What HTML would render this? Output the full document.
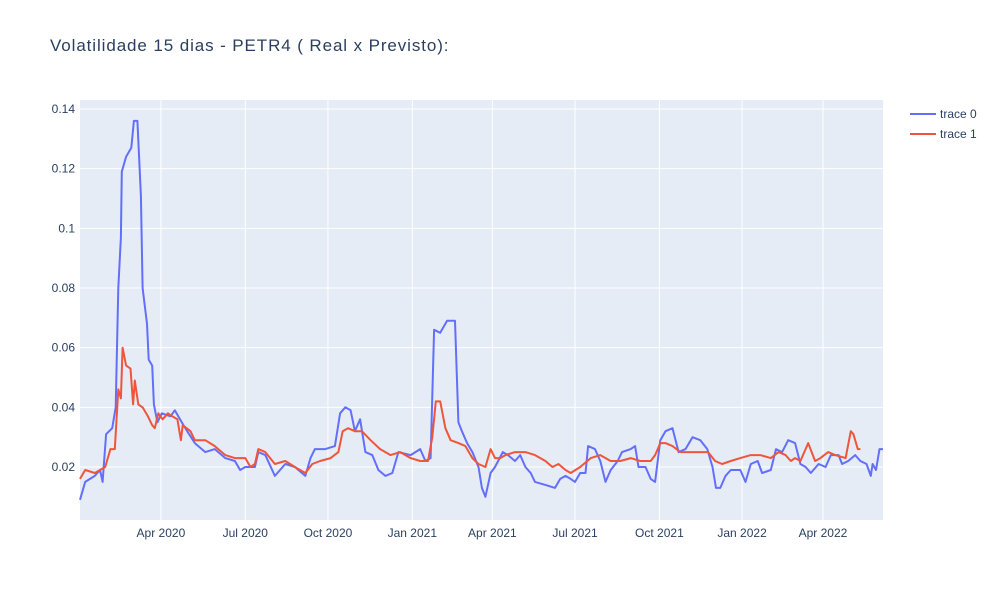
<!DOCTYPE html>
<html><head><meta charset="utf-8"><style>
body{margin:0;background:#fff;}
svg{display:block;font-family:"Liberation Sans",Arial,sans-serif;}
</style></head><body>
<svg id="chart" width="1000" height="600">
<rect x="0" y="0" width="1000" height="600" fill="#fff"/>
<text x="50" y="51" font-size="17" letter-spacing="0.9" fill="#2a3f5f">Volatilidade 15 dias - PETR4 ( Real x Previsto):</text>
<rect x="80" y="100" width="803" height="420" fill="#e5ecf6"/>
<g id="grid"></g><g id="series"></g><g id="axes"></g>
<g>
<g><line x1="910" y1="114" x2="936" y2="114" stroke="#636efa" stroke-width="2"/><text x="940" y="118" font-size="12" fill="#2a3f5f">trace 0</text></g>
<g><line x1="910" y1="134" x2="936" y2="134" stroke="#EF553B" stroke-width="2"/><text x="940" y="138" font-size="12" fill="#2a3f5f">trace 1</text></g>
</g>
</svg>
<script>
// x values are day-index units along the time axis
const realX=[0,6,17,23,26,30,37,41,44,47,48,53,59,62,66,70,72,77,79,83,85,89,94,104,109,115,121,132,144,155,167,178,184,190,201,205,213,224,236,247,259,265,270,282,293,299,305,311,316,322,328,336,343,351,359,366,380,391,397,403,407,414,422,431,435,439,445,451,458,462,466,472,477,486,492,500,506,512,518,523,535,546,552,558,564,569,575,581,584,592,598,604,610,618,623,633,638,642,650,656,661,667,673,681,688,696,704,713,721,727,731,736,742,748,759,765,771,779,784,794,800,807,814,822,828,834,840,849,857,863,872,876,883,891,897,904,909,911,915,919,923];
const realY=[0.009,0.015,0.017,0.019,0.015,0.031,0.033,0.040,0.080,0.097,0.119,0.124,0.127,0.136,0.136,0.111,0.080,0.068,0.056,0.054,0.041,0.035,0.038,0.037,0.039,0.036,0.033,0.028,0.025,0.026,0.023,0.022,0.019,0.020,0.020,0.025,0.024,0.017,0.021,0.020,0.017,0.023,0.026,0.026,0.027,0.038,0.040,0.039,0.032,0.036,0.025,0.024,0.019,0.017,0.018,0.025,0.024,0.026,0.022,0.023,0.066,0.065,0.069,0.069,0.035,0.032,0.028,0.025,0.020,0.013,0.010,0.018,0.020,0.025,0.024,0.022,0.024,0.020,0.018,0.015,0.014,0.013,0.016,0.017,0.016,0.015,0.018,0.018,0.027,0.026,0.022,0.015,0.019,0.022,0.025,0.026,0.027,0.020,0.020,0.016,0.015,0.029,0.032,0.033,0.025,0.026,0.030,0.029,0.026,0.020,0.013,0.013,0.017,0.019,0.019,0.015,0.021,0.022,0.018,0.019,0.026,0.025,0.029,0.028,0.021,0.020,0.018,0.021,0.020,0.024,0.024,0.021,0.022,0.024,0.022,0.021,0.017,0.021,0.019,0.026,0.026];
const predX=[0,6,17,23,29,35,40,44,47,49,53,58,61,63,67,72,78,83,86,90,95,101,106,112,116,118,127,132,144,155,167,178,190,196,201,205,213,224,236,247,259,267,276,288,297,302,308,316,324,334,345,357,368,380,391,400,405,409,414,420,426,435,443,451,458,466,472,477,483,489,500,512,523,535,543,550,558,564,575,587,598,610,621,633,644,656,661,667,673,681,690,702,713,722,730,738,748,759,771,782,794,803,811,817,822,828,837,845,851,860,868,880,886,889,894,897,903];
const predY=[0.016,0.019,0.018,0.019,0.020,0.026,0.026,0.046,0.043,0.060,0.054,0.053,0.041,0.049,0.041,0.040,0.037,0.034,0.033,0.038,0.036,0.038,0.037,0.036,0.029,0.034,0.032,0.029,0.029,0.027,0.024,0.023,0.023,0.020,0.021,0.026,0.025,0.021,0.022,0.020,0.018,0.021,0.022,0.023,0.025,0.032,0.033,0.032,0.032,0.029,0.026,0.024,0.025,0.023,0.022,0.022,0.030,0.042,0.042,0.033,0.029,0.028,0.027,0.023,0.021,0.020,0.026,0.023,0.023,0.024,0.025,0.025,0.024,0.022,0.020,0.021,0.019,0.018,0.020,0.023,0.024,0.022,0.022,0.023,0.022,0.022,0.024,0.028,0.028,0.027,0.025,0.025,0.025,0.025,0.022,0.021,0.022,0.023,0.024,0.024,0.023,0.025,0.024,0.022,0.023,0.022,0.028,0.022,0.023,0.025,0.024,0.023,0.032,0.031,0.026,0.026];
const xTickVals=[93,190,285,382,474,569,666,761,854];
const xTickLabels=["Apr 2020","Jul 2020","Oct 2020","Jan 2021","Apr 2021","Jul 2021","Oct 2021","Jan 2022","Apr 2022"];
const yTickVals=[0.02,0.04,0.06,0.08,0.1,0.12,0.14];
const yTickLabels=["0.02","0.04","0.06","0.08","0.1","0.12","0.14"];

const NS="http://www.w3.org/2000/svg";
const xs=d=>80+d*(803/923);
const ys=v=>467-(v-0.02)*2983.3;
function mk(tag,attrs,parent){const e=document.createElementNS(NS,tag);for(const k in attrs)e.setAttribute(k,attrs[k]);parent.appendChild(e);return e;}
const grid=document.getElementById('grid'),axes=document.getElementById('axes'),series=document.getElementById('series');
yTickVals.forEach((v,i)=>{
  const l=mk('line',{x1:80,x2:883,y1:ys(v),y2:ys(v),stroke:'#fff','stroke-width':1},grid);
  
  
  const t=mk('text',{x:75,y:ys(v)+4,'font-size':12,fill:'#2a3f5f','text-anchor':'end'},axes);
  t.textContent=yTickLabels[i];
  
  
});
xTickVals.forEach((v,i)=>{
  const l=mk('line',{x1:xs(v),x2:xs(v),y1:100,y2:520,stroke:'#fff','stroke-width':1},grid);
  
  
  const t=mk('text',{x:xs(v),y:537,'font-size':12,fill:'#2a3f5f','text-anchor':'middle'},axes);
  t.textContent=xTickLabels[i];
  
  
});
function line(X,Y,color,name){
  const d=X.map((x,i)=>(i?'L':'M')+xs(x).toFixed(1)+' '+ys(Y[i]).toFixed(1)).join(' ');
  const p=mk('path',{d:d,fill:'none',stroke:color,'stroke-width':2,'stroke-linejoin':'round'},series);
  
  
}
line(realX,realY,'#636efa','trace-0-line');
line(predX,predY,'#EF553B','trace-1-line');
</script>
</body></html>
